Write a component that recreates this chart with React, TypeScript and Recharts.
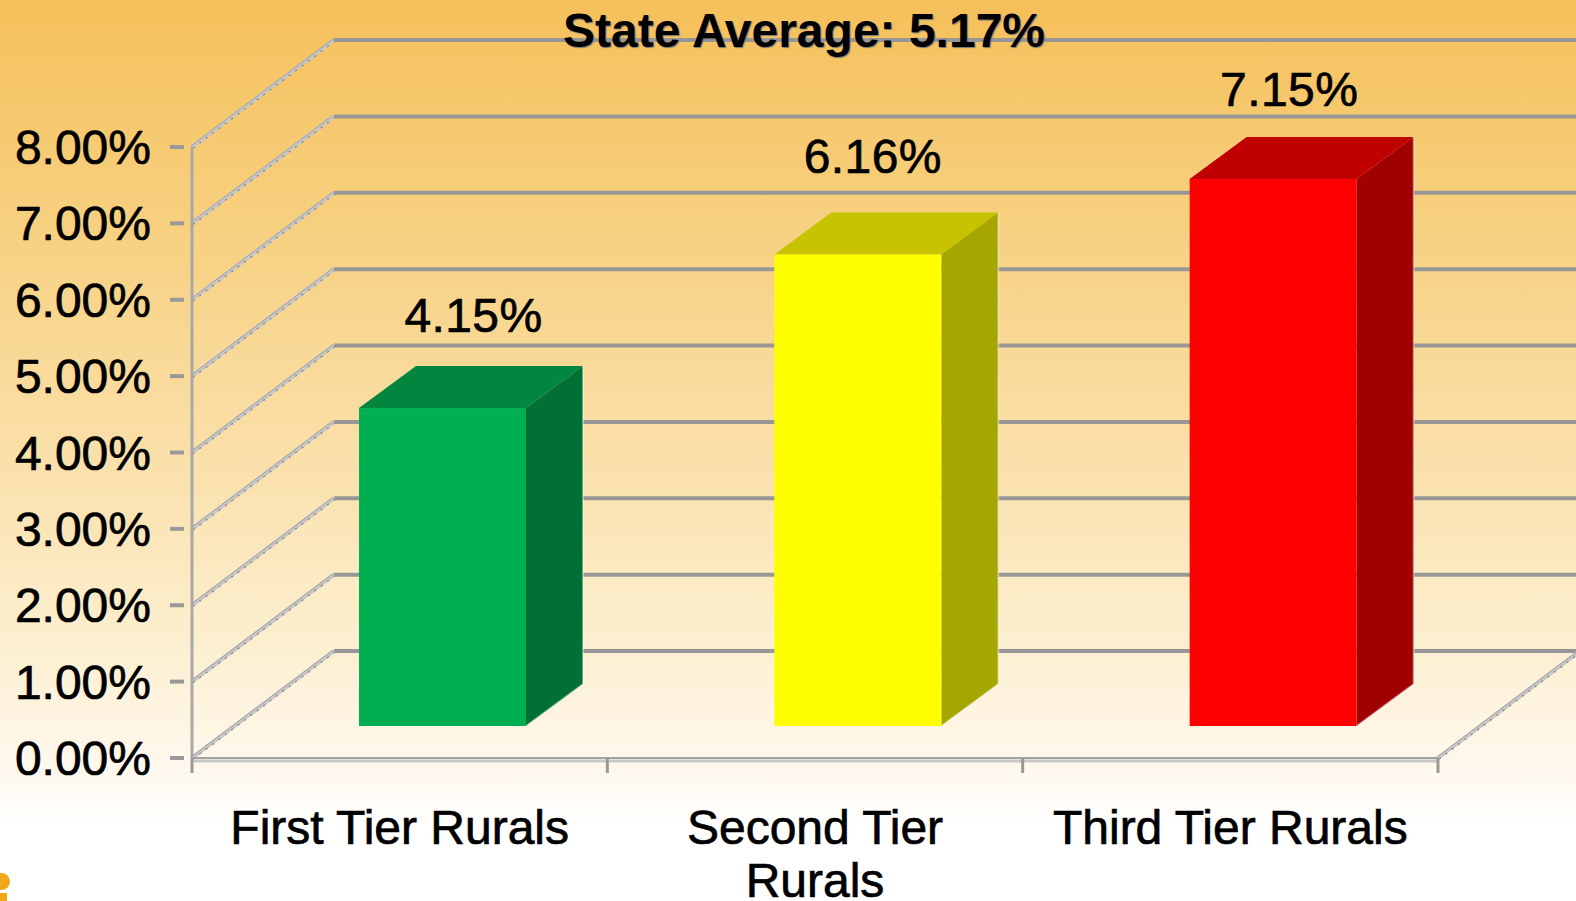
import { BarChart, Bar, XAxis, YAxis, CartesianGrid, LabelList } from 'recharts'

const categories = ['First Tier Rurals', 'Second Tier\nRurals', 'Third Tier Rurals']
const rates = [4.15, 6.16, 7.15]
const yTicks = [0, 1, 2, 3, 4, 5, 6, 7, 8]
const frontColors = ['#00B050', '#FFFF00', '#FF0000']
const topColors = ['#00863E', '#C8C300', '#C00000']
const sideColors = ['#007035', '#A6A600', '#A00000']
const chartTitle = 'State Average: 5.17%'

const data = categories.map((name, i) => ({ name, rate: rates[i] }))

const WIDTH = 1576
const HEIGHT = 901
const FONT = '"Liberation Sans", Arial, sans-serif'

// fake 3d: how far the back wall sits from the front axes
const WALL_DX = 142
const WALL_DY = -107
// bars stand in the middle of the floor
const BAR_DX = 43
const BAR_DY = -32
const DEPTH_X = 57
const DEPTH_Y = -42
const BAND = (1438 - 192) / categories.length
// the labels do not sit exactly centred over the bars in the original
const labelNudge = [
  { x: 31, y: -76 },
  { x: 15, y: -82 },
  { x: 16, y: -73 },
]

const Diagonal = ({ x, y }: { x: number; y: number }) => (
  <>
    <line x1={x} y1={y} x2={x + WALL_DX} y2={y + WALL_DY} stroke="#c6c6c6" strokeWidth={4} />
    <line x1={x + 1} y1={y + 1} x2={x + WALL_DX + 1} y2={y + WALL_DY + 1} stroke="#8c8c8c" strokeWidth={1.5} strokeDasharray="2 6" />
    <line x1={x - 1} y1={y - 1} x2={x + WALL_DX - 1} y2={y + WALL_DY - 1} stroke="#a2a2a2" strokeWidth={1} />
  </>
)

const gridLine = (props: any) => {
  const { x1, x2, y1, index, key } = props
  const isFloor = Math.abs(y1 - 758) < 1
  return (
    <g key={key ?? index}>
      <Diagonal x={x1} y={y1} />
      <line x1={x1 + WALL_DX} y1={y1 + WALL_DY} x2={x2 + WALL_DX} y2={y1 + WALL_DY} stroke="#979797" strokeWidth={4} />
      {isFloor && <Diagonal x={x2} y={y1} />}
    </g>
  )
}

const Bar3D = (props: any) => {
  const { x, y, width, height, index } = props
  const left = x + BAR_DX
  const right = left + width
  const top = y + BAR_DY - 1
  const bottom = y + height + BAR_DY
  return (
    <g>
      <polygon
        points={`${left},${top} ${left + DEPTH_X},${top + DEPTH_Y} ${right + DEPTH_X},${top + DEPTH_Y} ${right},${top}`}
        fill={topColors[index]}
      />
      <polygon
        points={`${right},${top} ${right + DEPTH_X},${top + DEPTH_Y} ${right + DEPTH_X},${bottom + DEPTH_Y} ${right},${bottom}`}
        fill={sideColors[index]}
      />
      {/* pale rim the original has along the outer edges */}
      <polyline
        points={`${right + DEPTH_X},${top + DEPTH_Y} ${right + DEPTH_X},${bottom + DEPTH_Y} ${right},${bottom}`}
        fill="none"
        stroke="#ffffff"
        strokeOpacity={0.4}
        strokeWidth={2}
      />
      <rect x={left} y={top} width={width} height={bottom - top} fill={frontColors[index]} />
    </g>
  )
}

const YTick = ({ x, y, payload }: any) => (
  <g>
    <line x1={x - 14} y1={y} x2={x} y2={y} stroke="#999999" strokeWidth={4} />
    <text x={151} y={y + 17} textAnchor="end" fontFamily={FONT} fontSize={48} fill="#000" stroke="#000" strokeWidth={0.7}>
      {payload.value.toFixed(2)}%
    </text>
  </g>
)

const XTick = ({ x, y, payload, index }: any) => (
  <g>
    {/* pale band under the axis line */}
    {index === 0 && (
      <line x1={x - BAND / 2} y1={y - 5} x2={x + BAND * 2.5} y2={y - 5} stroke="#c8c8c8" strokeWidth={3} />
    )}
    <line x1={x - BAND / 2} y1={y - 8} x2={x - BAND / 2} y2={y + 7} stroke="#999999" strokeWidth={3} />
    {index === categories.length - 1 && (
      <line x1={x + BAND / 2} y1={y - 8} x2={x + BAND / 2} y2={y + 7} stroke="#999999" strokeWidth={3} />
    )}
    {String(payload.value).split('\n').map((line, i) => (
      <text key={line} x={x} y={844 + i * 53} textAnchor="middle" fontFamily={FONT} fontSize={48} fill="#000" stroke="#000" strokeWidth={0.7}>
        {line}
      </text>
    ))}
  </g>
)

const RateLabel = ({ x, y, width, index, value }: any) => (
  <text
    x={x + BAR_DX + width / 2 + labelNudge[index].x}
    y={y + BAR_DY - 1 + labelNudge[index].y}
    textAnchor="middle"
    fontFamily={FONT}
    fontSize={48}
    letterSpacing={0.4}
    fill="#000"
    stroke="#000"
    strokeWidth={0.7}
  >
    {value.toFixed(2)}%
  </text>
)

export default function App() {
  return (
    <div
      style={{
        position: 'absolute',
        left: 0,
        top: 0,
        width: WIDTH,
        height: HEIGHT,
        overflow: 'hidden',
        background:
          'linear-gradient(180deg, #F5C05A 0px, #F7D284 250px, #FADFA8 450px, #FCEFCF 640px, #FFF8EE 770px, #FFFFFF 825px)',
      }}
    >
      <BarChart
        width={WIDTH}
        height={HEIGHT}
        data={data}
        margin={{ top: 147, right: 138, bottom: 0, left: 0 }}
        barSize={167}
        style={{ overflow: 'hidden' }}
      >
        <CartesianGrid horizontal={gridLine} vertical={false} />
        <XAxis
          dataKey="name"
          height={143}
          interval={0}
          axisLine={{ stroke: '#a2a2a2', strokeWidth: 2 }}
          tickLine={false}
          tick={XTick}
        />
        <YAxis
          width={192}
          domain={[0, 8]}
          ticks={yTicks}
          interval={0}
          axisLine={{ stroke: '#a8a8a8', strokeWidth: 3 }}
          tickLine={false}
          tick={YTick}
        />
        <Bar dataKey="rate" shape={Bar3D} isAnimationActive={false}>
          <LabelList dataKey="rate" content={RateLabel} />
        </Bar>
      </BarChart>
      <div
        style={{
          position: 'absolute',
          left: 304,
          width: 1000,
          top: 3,
          textAlign: 'center',
          fontFamily: FONT,
          fontWeight: 700,
          fontSize: 48,
          lineHeight: '56px',
          color: '#000',
          textShadow: '1px 1px 1px #777',
        }}
      >
        {chartTitle}
      </div>
      {/* scrap of the slide's logo in the corner */}
      <div style={{ position: 'absolute', left: -7, top: 873, width: 17, height: 17, borderRadius: '50%', background: '#F0A818' }} />
      <div style={{ position: 'absolute', left: 0, top: 893, width: 7, height: 8, background: '#F0A818' }} />
    </div>
  )
}
